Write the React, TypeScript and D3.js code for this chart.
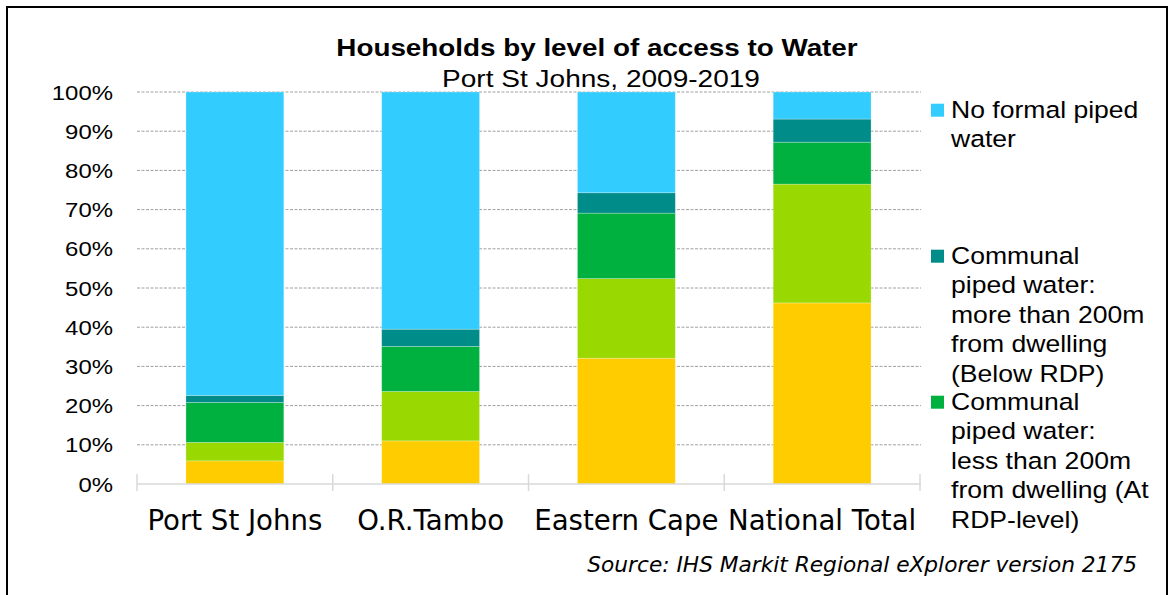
import React from "react";
import * as d3 from "d3";

// Categories along the x axis
const categories = ["Port St Johns", "O.R.Tambo", "Eastern Cape", "National Total"];

// Share of households (%) by level of access, stacked bottom to top
const pipedInsideDwelling = [5.9, 11.0, 32.1, 46.2];
const pipedInYard = [4.7, 12.6, 20.3, 30.3];
const communalLess200 = [10.2, 11.5, 16.7, 10.7];
const communalMore200 = [1.8, 4.4, 5.2, 5.9];
const noFormalPiped = [77.4, 60.5, 25.7, 6.9];

const seriesKeys = ["inside", "yard", "less200", "more200", "none"];
const seriesColors: Record<string, string> = {
  inside: "#FFCC00",
  yard: "#99D800",
  less200: "#00B140",
  more200: "#008C89",
  none: "#33CCFF",
};

// Legend entries shown at the right (top to bottom)
const legendEntries = [
  { key: "none", lines: ["No formal piped", "water"] },
  {
    key: "more200",
    lines: ["Communal", "piped water:", "more than 200m", "from dwelling", "(Below RDP)"],
  },
  {
    key: "less200",
    lines: ["Communal", "piped water:", "less than 200m", "from dwelling (At", "RDP-level)"],
  },
];

const yTicks = [0, 10, 20, 30, 40, 50, 60, 70, 80, 90, 100];

const W = 1174;
const H = 595;
const plot = { left: 137, right: 920, top: 92, bottom: 484 };
const SX = 1.14; // horizontal stretch of the sans text

const SANS = "'Liberation Sans', Arial, sans-serif";
const WIDE = "'DejaVu Sans', Verdana, sans-serif";

function SText(props: {
  x: number;
  y: number;
  size: number;
  anchor?: "start" | "middle" | "end";
  weight?: string | number;
  children: React.ReactNode;
}) {
  const { x, y, size, anchor = "start", weight = "normal", children } = props;
  return (
    <text
      transform={`translate(${x},${y}) scale(${SX},1)`}
      fontFamily={SANS}
      fontSize={size}
      fontWeight={weight}
      textAnchor={anchor}
      fill="#000"
    >
      {children}
    </text>
  );
}

export default function App() {
  const rows = categories.map((c, i) => ({
    category: c,
    inside: pipedInsideDwelling[i],
    yard: pipedInYard[i],
    less200: communalLess200[i],
    more200: communalMore200[i],
    none: noFormalPiped[i],
  }));

  const stack = d3.stack<any>().keys(seriesKeys);
  const layers = stack(rows);

  const x = d3
    .scaleBand<string>()
    .domain(categories)
    .range([plot.left, plot.right])
    .paddingInner(0.5)
    .paddingOuter(0.25);

  const y = d3.scaleLinear().domain([0, 100]).range([plot.bottom, plot.top]);

  const step = x.step();
  const boundaries = d3.range(categories.length + 1).map((i) => plot.left + i * step);

  const legendX = 931;
  const legendFirstBaseline = 117.7;
  const legendPitch = 146;
  const lineGap = 29.5;

  return (
    <svg
      width={W}
      height={H}
      style={{ position: "absolute", left: 0, top: 0, background: "#fff" }}
    >
      <rect x={0} y={0} width={W} height={H} fill="#fff" />
      {/* frame */}
      <rect x={7} y={7} width={1160} height={620} fill="none" stroke="#000" strokeWidth={2} />

      {/* title */}
      <SText x={597} y={56} size={24.4} anchor="middle" weight="bold">
        Households by level of access to Water
      </SText>
      <SText x={601} y={87} size={24.6} anchor="middle">
        Port St Johns, 2009-2019
      </SText>

      {/* gridlines */}
      {yTicks
        .filter((t) => t > 0)
        .map((t) => (
          <line
            key={t}
            x1={plot.left}
            x2={plot.right + 1}
            y1={y(t)}
            y2={y(t)}
            stroke="#A0A0A0"
            strokeWidth={1}
            strokeDasharray="3,1.5"
          />
        ))}

      {/* stacked bars */}
      {layers.map((layer) => (
        <g key={layer.key} fill={seriesColors[layer.key]}>
          {layer.map((d, i) => (
            <rect
              key={i}
              x={x(categories[i])}
              width={x.bandwidth()}
              y={y(d[1])}
              height={y(d[0]) - y(d[1])}
              stroke="#ffffff"
              strokeOpacity={0.35}
              strokeWidth={0.75}
            />
          ))}
        </g>
      ))}

      {/* x axis */}
      <line
        x1={plot.left}
        x2={plot.right + 1}
        y1={plot.bottom}
        y2={plot.bottom}
        stroke="#D9D9D9"
        strokeWidth={1.5}
      />
      {boundaries.map((bx, i) => (
        <line
          key={i}
          x1={bx}
          x2={bx}
          y1={plot.bottom - 10}
          y2={plot.bottom + 7}
          stroke="#D9D9D9"
          strokeWidth={1.5}
        />
      ))}

      {/* y tick labels */}
      {yTicks.map((t) => (
        <SText key={t} x={113} y={y(t) + 7.5} size={21} anchor="end">
          {`${t}%`}
        </SText>
      ))}

      {/* x category labels */}
      {categories.map((c) => (
        <text
          key={c}
          x={(x(c) as number) + x.bandwidth() / 2}
          y={530}
          fontFamily={WIDE}
          fontSize={27.6}
          textAnchor="middle"
          fill="#000"
        >
          {c}
        </text>
      ))}

      {/* legend */}
      {legendEntries.map((e, i) => {
        const base = legendFirstBaseline + i * legendPitch;
        return (
          <g key={e.key}>
            <rect
              x={legendX}
              y={base - 14}
              width={13}
              height={13}
              fill={seriesColors[e.key]}
            />
            {e.lines.map((ln, j) => (
              <SText key={j} x={951} y={base + j * lineGap} size={23.3}>
                {ln}
              </SText>
            ))}
          </g>
        );
      })}

      {/* source */}
      <text
        x={1137}
        y={572}
        fontFamily={WIDE}
        fontStyle="italic"
        fontSize={21.7}
        textAnchor="end"
        fill="#000"
      >
        Source: IHS Markit Regional eXplorer version 2175
      </text>
    </svg>
  );
}
